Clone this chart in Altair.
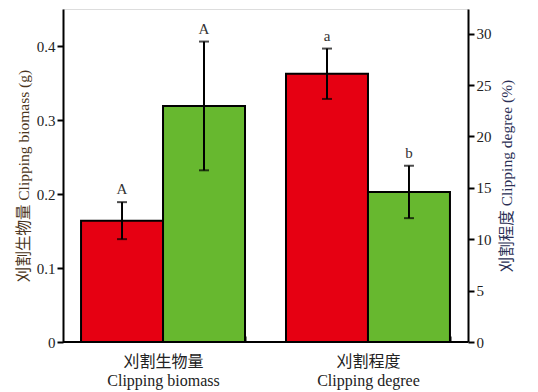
import altair as alt
import pandas as pd

groups = ["刈割生物量|Clipping biomass", "刈割程度|Clipping degree"]
series = ["T1", "T2"]
colors = ["#E60012", "#67B82F"]

biomass_mean = [0.164, 0.319]
biomass_err = [0.025, 0.087]
biomass_letter = ["A", "A"]

degree_mean = [26.1, 14.6]
degree_err = [2.45, 2.55]
degree_letter = ["a", "b"]

FONT = "Liberation Serif, 'Noto Sans CJK SC', serif"

def frame(group, means, errs, letters):
    return pd.DataFrame({
        "group": [group] * len(series),
        "series": series,
        "mean": means,
        "lower": [m - e for m, e in zip(means, errs)],
        "upper": [m + e for m, e in zip(means, errs)],
        "letter": letters,
    })

df_b = frame(groups[0], biomass_mean, biomass_err, biomass_letter)
df_d = frame(groups[1], degree_mean, degree_err, degree_letter)

x_scale = alt.Scale(domain=groups, paddingInner=0.2, paddingOuter=0.088)
x_main = alt.X(
    "group:N", sort=groups, title=None, scale=x_scale,
    axis=alt.Axis(
        labelExpr="split(datum.label, '|')", labelAngle=0, labelFontSize=16,
        labelLineHeight=19, labelPadding=11, labelColor="#222222",
        domain=False, tickBand="extent", tickSize=6, tickWidth=2,
        tickColor="black", offset=-6, labelFont=FONT, labelBaseline="top",
    ),
)
x_plain = alt.X("group:N", sort=groups, title=None, scale=x_scale)
xo = alt.XOffset("series:N", sort=series, scale=alt.Scale(domain=series, paddingInner=0, paddingOuter=0))
color = alt.Color("series:N", scale=alt.Scale(domain=series, range=colors), legend=None)


def build(df, x_enc, y_scale, y_axis):
    base = alt.Chart(df)
    bars = base.mark_bar(stroke="black", strokeWidth=2).encode(
        x=x_enc, xOffset=xo, y=alt.Y("mean:Q", scale=y_scale, axis=y_axis), color=color
    )
    rule = base.mark_rule(color="black", strokeWidth=2).encode(
        x=x_plain, xOffset=xo, y=alt.Y("lower:Q"), y2="upper:Q"
    )
    cap_hi = base.mark_tick(color="black", thickness=2, size=10).encode(
        x=x_plain, xOffset=xo, y="upper:Q"
    )
    cap_lo = base.mark_tick(color="black", thickness=2, size=10).encode(
        x=x_plain, xOffset=xo, y="lower:Q"
    )
    text = base.mark_text(baseline="bottom", dy=-5, fontSize=15, font=FONT, color="#333333").encode(
        x=x_plain, xOffset=xo, y="upper:Q", text="letter:N"
    )
    return alt.layer(bars, rule, cap_hi, cap_lo, text)

left_axis = alt.Axis(
    orient="left", values=[0, 0.1, 0.2, 0.3, 0.4],
    labelExpr="datum.value == 0 ? '0' : format(datum.value, '.1f')",
    title="刈割生物量 Clipping biomass (g)", titleColor="#4a3520",
    titleFontSize=15.5, titleFontWeight="normal", titlePadding=5, titleFont=FONT,
    labelFontSize=15, labelColor="#222222", labelFont=FONT, grid=False,
    domainWidth=2, domainColor="black", tickWidth=2, tickColor="black", tickSize=6,
)
right_axis = alt.Axis(
    orient="right", values=[0, 5, 10, 15, 20, 25, 30],
    title="刈割程度 Clipping degree (%)", titleColor="#2b2f55", titleAngle=270,
    titleBaseline="top",
    titleFontSize=15.5, titleFontWeight="normal", titlePadding=8, titleFont=FONT,
    labelFontSize=15, labelColor="#222222", labelFont=FONT, grid=False,
    domainWidth=2, domainColor="black", tickWidth=2, tickColor="black", tickSize=6,
)

left = build(df_b, x_main, alt.Scale(domain=[0, 0.45], nice=False, zero=True), left_axis)
bottom = alt.Chart(df_b).mark_rule(color="black", strokeWidth=2).encode(y=alt.datum(0))
left = alt.layer(left, bottom)
right = build(df_d, x_plain, alt.Scale(domain=[0, 32.4], nice=False, zero=True), right_axis)

chart = alt.layer(left, right).resolve_scale(y="independent", color="shared").properties(
    width=405, height=333, padding={"top": 1, "left": 8, "right": 5, "bottom": 5}
).configure_view(stroke=None).configure(font=FONT)

chart.save("out.html", embed_options={"renderer": "svg", "actions": False})
